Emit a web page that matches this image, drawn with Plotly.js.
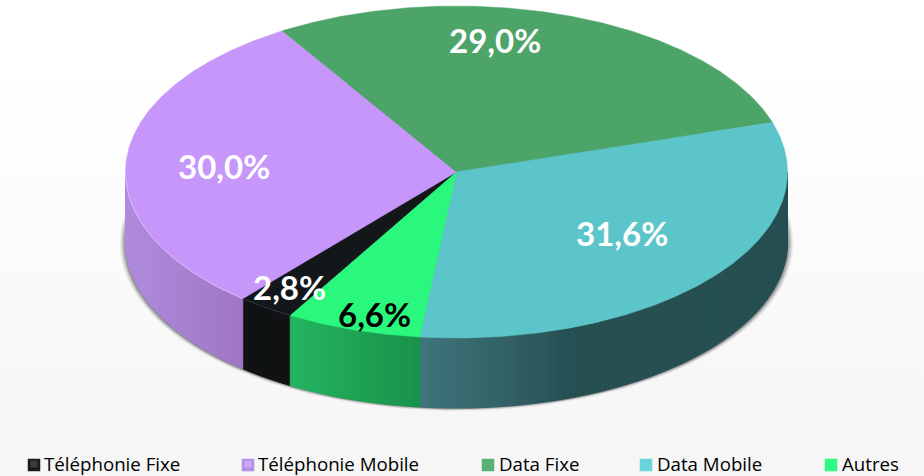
<!DOCTYPE html>
<html><head><meta charset="utf-8">
<script src="https://cdn.plot.ly/plotly-3.0.1.min.js"></script>
<style>
html,body{margin:0;padding:0;width:924px;height:476px;overflow:hidden;background:linear-gradient(#ffffff 0px,#ffffff 70px,#f6f6f6 440px,#f6f6f6 476px);}
#c{width:924px;height:476px;}
</style></head><body><div id="c"></div>
<script>
const categories = ['Téléphonie Fixe','Téléphonie Mobile','Data Fixe','Data Mobile','Autres'];
const values = [2.8,30.0,29.0,31.6,6.6];
const topColors = ['#14171a','#c796fb','#4ca468','#5cc5ca','#2af87d'];
const labelColors = ['#ffffff','#ffffff','#ffffff','#ffffff','#000000'];
const labelX = [289,224,495,622,374];
const labelY = [287,166,40,233,314];
const legendSwatchX = [34,248,488,646,831];
const legendTextX = [44,258,499,657,842];
const wallStops = [
  [[0,'#101214'],[1,'#101214']],
  [[0,'#b08bdd'],[1,'#9f76c4']],
  [[0,'#000000'],[1,'#000000']],
  [[0,'#3f757b'],[0.2,'#336469'],[0.42,'#264f52'],[1,'#264f52']],
  [[0,'#24b45f'],[1,'#18924a']]
];

const CX=456.5, CY=172, RX=331, RY=166, DEPTH=70, START=210.15;
const rad=a=>a*Math.PI/180;
const px=(a,k=0)=>CX+(RX+k)*Math.sin(rad(a));
const py=(a,k=0,d=0)=>CY+d-(RY+k)*Math.cos(rad(a));
function hex(c){return [1,3,5].map(i=>parseInt(c.substr(i,2),16));}
function mix(stops,t){
  for(let i=1;i<stops.length;i++){
    if(t<=stops[i][0]){
      const u=(t-stops[i-1][0])/(stops[i][0]-stops[i-1][0]||1);
      const a=hex(stops[i-1][1]),b=hex(stops[i][1]);
      return 'rgb('+a.map((v,j)=>Math.round(v+(b[j]-v)*u)).join(',')+')';
    }
  }
  return stops[stops.length-1][1];
}
function arc(a0,a1,step=1){
  const out=[];const n=Math.max(1,Math.ceil(Math.abs(a1-a0)/step));
  for(let i=0;i<=n;i++)out.push(a0+(a1-a0)*i/n);
  return out;
}
// slice angular ranges derived from values (clockwise from north)
let ranges=[];let acc=START;
values.forEach(v=>{const s=v*3.6;ranges.push([acc,acc+s]);acc+=s;});

const traces=[];
// soft shadow under the pie
[[6,2,0.05],[5,1.5,0.08],[4,1,0.11],[3,0.5,0.14],[2,0,0.18],[1,0,0.22]].forEach(([kx,ky,op])=>{
  const as=arc(0,360,2);
  traces.push({type:'scatter',mode:'lines',x:as.map(a=>px(a,kx)),y:as.map(a=>py(a,ky,DEPTH+1)),
    fill:'toself',fillcolor:'rgba(60,60,60,'+op+')',line:{width:0},hoverinfo:'skip',showlegend:false});
});
// visible walls: clock angle 90..270 (wrapped to each slice's range)
function wallPieces(r){
  const res=[];
  [0,360,-360].forEach(off=>{
    const a0=Math.max(r[0]+off,90),a1=Math.min(r[1]+off,270);
    if(a1>a0)res.push([a0,a1]);
  });
  return res;
}
values.forEach((v,i)=>{
  wallPieces(ranges[i]).forEach(([a0,a1])=>{
    const x0=px(a0),x1=px(a1),lo=Math.min(x0,x1),hi=Math.max(x0,x1);
    const as=arc(a0,a1,1.2);
    for(let j=0;j<as.length-1;j++){
      const b0=as[j],b1=as[j+1];
      const t=(px(b0)+px(b1))/2;
      const col=mix(wallStops[i],(t-lo)/(hi-lo||1));
      const xs=[px(b0),px(b1),px(b1),px(b0),px(b0)];
      const ys=[py(b0),py(b1),py(b1,0,DEPTH),py(b0,0,DEPTH),py(b0)];
      traces.push({type:'scatter',mode:'lines',x:xs,y:ys,fill:'toself',fillcolor:col,
        line:{color:col,width:1},hoverinfo:'skip',showlegend:false});
    }
  });
});
// top faces
values.forEach((v,i)=>{
  const as=arc(ranges[i][0],ranges[i][1],0.5);
  traces.push({type:'scatter',mode:'lines',name:categories[i],
    x:[CX,...as.map(a=>px(a)),CX],y:[CY,...as.map(a=>py(a)),CY],
    fill:'toself',fillcolor:topColors[i],line:{color:topColors[i],width:0.5},
    hovertemplate:categories[i]+': '+v.toFixed(1).replace('.',',')+'%<extra></extra>',showlegend:false});
});
// light rim on the front edge of the mobile slice and fixed-line slice
[[1,'#dcbdfc'],[0,'#33363a']].forEach(([i,col])=>{
  const as=arc(ranges[i][0],Math.min(ranges[i][1],270),1);
  traces.push({type:'scatter',mode:'lines',x:as.map(a=>px(a)),y:as.map(a=>py(a)),
    line:{color:col,width:1},hoverinfo:'skip',showlegend:false});
});
// legend swatches
traces.push({type:'scatter',mode:'markers',x:legendSwatchX,y:categories.map(()=>465),
  marker:{symbol:'square',size:12.5,color:['#1a1a1a','#b48fe6','#58b074','#6ad4dc','#2efb84'],line:{width:0}},
  hoverinfo:'skip',showlegend:false});
traces.push({type:'scatter',mode:'markers',x:legendSwatchX.slice(0,2),y:[464,464],
  marker:{symbol:'square',size:7,color:['#3a3a3a','#cda3fb'],line:{width:0}},
  hoverinfo:'skip',showlegend:false});

const annotations=[];
values.forEach((v,i)=>{
  annotations.push({x:labelX[i],y:labelY[i],xref:'x',yref:'y',showarrow:false,
    text:'<b>'+v.toFixed(1).replace('.',',')+'%</b>',
    font:{family:'Lato, sans-serif',size:33,color:labelColors[i]},xanchor:'center',yanchor:'middle'});
  annotations.push({x:legendTextX[i],y:463.5,xref:'x',yref:'y',showarrow:false,text:categories[i],
    font:{family:'Open Sans, sans-serif',size:18.7,color:'#000000'},xanchor:'left',yanchor:'middle',xshift:-1,borderpad:0});
});

Plotly.newPlot('c',traces,{
  width:924,height:476,margin:{l:0,r:0,t:0,b:0},
  paper_bgcolor:'rgba(0,0,0,0)',plot_bgcolor:'rgba(0,0,0,0)',
  xaxis:{range:[0,924],visible:false,fixedrange:true},
  yaxis:{range:[476,0],visible:false,fixedrange:true},
  showlegend:false,annotations,hovermode:'closest'
},{displayModeBar:false,responsive:false});
</script></body></html>
